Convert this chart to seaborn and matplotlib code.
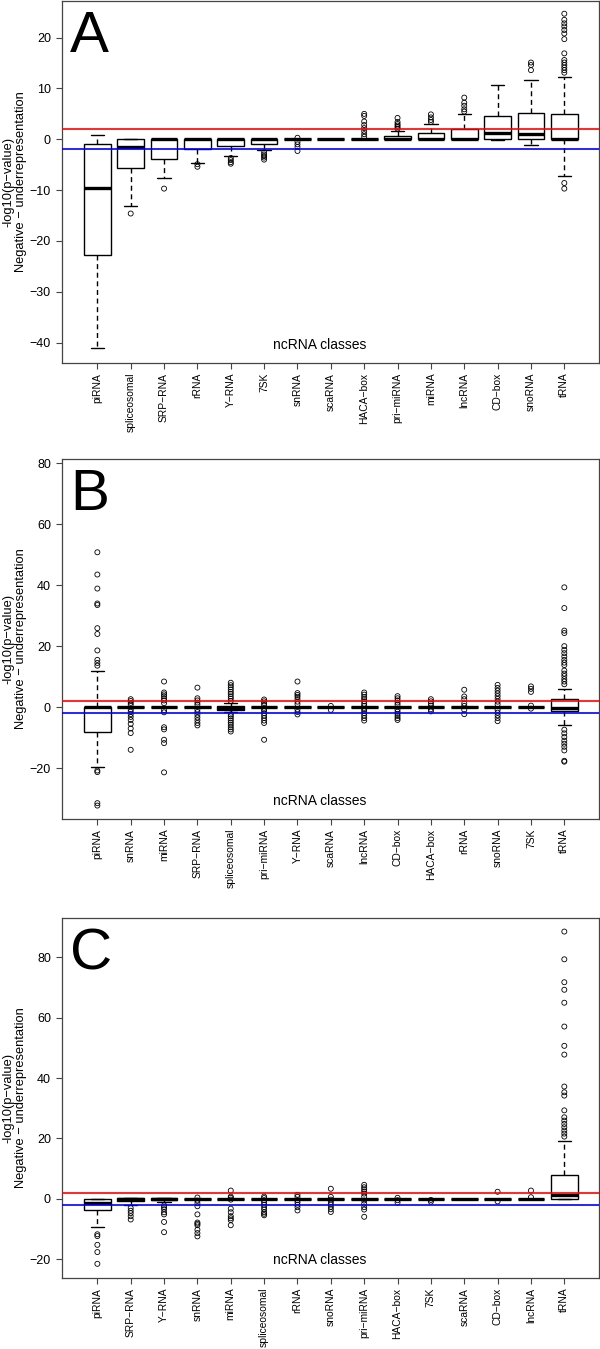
import numpy as np
import pandas as pd
import matplotlib
matplotlib.use("Agg")
import matplotlib.pyplot as plt
import seaborn as sns

M = "\u2212"

# ---- panel A ----
a_classes = ["piRNA", "spliceosomal", "SRP" + M + "RNA", "rRNA", "Y" + M + "RNA", "7SK", "snRNA",
             "scaRNA", "HACA" + M + "box", "pri" + M + "miRNA", "miRNA", "lncRNA", "CD" + M + "box",
             "snoRNA", "tRNA"]
a_lo = [-41.0, -13.2, -7.6, -4.6, -3.2, -2.2, 0, 0, 0, 0, 0, 0, -0.2, -1.2, -7.2]
a_q1 = [-22.7, -5.6, -3.8, -2.0, -1.3, -0.9, 0, 0, 0, 0, 0, 0, 0, 0, 0]
a_med = [-9.5, -1.5, 0, 0, 0, 0, 0, 0, 0, 0, 0, 0, 1.3, 1.1, 0]
a_q3 = [-0.9, 0, 0, 0, 0, 0, 0, 0, 0, 0.65, 1.2, 2.1, 4.5, 5.25, 4.9]
a_hi = [0.8, 0, 0, 0, 0, 0, 0, 0, 0, 1.6, 3.0, 5.05, 10.6, 11.7, 12.3]
a_out = [[], [-14.6], [-9.7], [-4.9, -5.4], [-3.7, -4.1, -4.5, -4.8],
         [-2.6, -3.0, -3.3, -3.6, -4.0], [0.3, -0.5, -1.0, -1.5, -2.3], [],
         [5.0, 4.6, 3.5, 2.8, 2.2, 1.6, 1.0, 0.5], [4.2, 3.4, 3.0, 2.7, 2.4, 2.1],
         [4.9, 4.3, 3.8, 3.4], [8.2, 7.2, 6.6, 5.9, 5.45], [], [15.1, 14.6, 13.6],
         [24.7, 23.5, 22.8, 22.2, 21.5, 20.8, 19.7, 16.9, 15.6, 15.1, 14.6, 14.1, 13.6, 13.1,
          -8.6, -9.7]]

# ---- panel B ----
b_classes = ["piRNA", "snRNA", "miRNA", "SRP" + M + "RNA", "spliceosomal", "pri" + M + "miRNA",
             "Y" + M + "RNA", "scaRNA", "lncRNA", "CD" + M + "box", "HACA" + M + "box", "rRNA",
             "snoRNA", "7SK", "tRNA"]
b_lo = [-19.7, 0, 0, 0, -1.6, 0, 0, 0, 0, 0, 0, 0, 0, 0, -5.8]
b_q1 = [-8.0, 0, 0, 0, -0.9, 0, 0, 0, 0, 0, 0, 0, 0, 0, -1.2]
b_med = [0, 0, 0, 0, -0.3, 0, 0, 0, 0, 0, 0, 0, 0, 0, -0.3]
b_q3 = [0, 0, 0, 0, 0.3, 0, 0, 0, 0, 0, 0, 0, 0, 0, 2.6]
b_hi = [11.9, 0, 0, 0, 1.2, 0, 0, 0, 0, 0, 0, 0, 0, 0, 6.0]
b_out = [[50.8, 43.5, 38.9, 34.0, 33.5, 25.9, 24.0, 18.6, 15.5, 14.5, 13.6, -20.8, -21.3, -31.5, -32.3],
         [2.6, 2.0, 1.4, 0.8, -0.8, -1.5, -2.3, -3.2, -4.2, -5.5, -7.0, -8.5, -14.0],
         [8.4, 4.8, 4.2, 3.6, 2.9, 2.2, 1.3, -1.0, -1.7, -6.6, -7.3, -10.7, -11.8, -21.4],
         [6.4, 2.9, 2.2, 1.5, 0.8, -0.8, -1.6, -2.5, -3.4, -4.3, -5.2, -6.0],
         [8.0, 7.2, 6.5, 5.8, 5.0, 4.3, 3.5, 2.8, 2.0, -2.4, -3.0, -3.7, -4.4, -5.1, -5.8, -6.6, -7.3, -8.0],
         [2.5, 1.9, 1.3, 0.7, -0.7, -1.3, -2.0, -2.8, -3.6, -4.4, -5.2, -10.7],
         [8.4, 4.6, 4.0, 3.4, 2.6, 1.8, 1.0, -0.8, -1.6, -2.4],
         [0.4, -0.9],
         [4.8, 4.1, 3.3, 2.6, 1.9, 1.1, 0.4, -0.6, -1.3, -2.0, -2.8, -3.6, -4.4],
         [3.6, 2.9, 2.2, 1.5, 0.8, -0.8, -1.5, -2.2, -2.9, -3.6, -4.2],
         [2.6, 1.9, 1.2, 0.5, -0.7, -1.4],
         [5.7, 3.5, 2.6, 1.2, 0.4, -0.9, -2.3],
         [7.3, 6.3, 5.4, 4.5, 3.6, 2.7, 1.8, 0.9, -0.9, -1.8, -2.7, -3.6, -4.6],
         [6.8, 6.0, 5.0, 0.5, -0.5],
         [39.3, 32.5, 25.1, 24.3, 20.0, 18.8, 17.7, 16.6, 15.5, 14.6, 13.8, 12.0, 11.0, 10.2, 9.2, 8.4, 7.5,
          -7.4, -8.6, -9.8, -11.0, -12.0, -13.0, -14.2, -17.6, -17.9]]

# ---- panel C ----
c_classes = ["piRNA", "SRP" + M + "RNA", "Y" + M + "RNA", "snRNA", "miRNA", "spliceosomal", "rRNA",
             "snoRNA", "pri" + M + "miRNA", "HACA" + M + "box", "7SK", "scaRNA", "CD" + M + "box",
             "lncRNA", "tRNA"]
c_lo = [-9.4, -2.0, -1.1, 0, 0, 0, 0, 0, 0, 0, 0, 0, 0, 0, 0]
c_q1 = [-3.9, -0.9, -0.4, 0, 0, 0, 0, 0, 0, 0, 0, 0, 0, 0, 0]
c_med = [-1.3, 0, 0, 0, 0, 0, 0, 0, 0, 0, 0, 0, 0, 0, 1.3]
c_q3 = [0, 0.3, 0.1, 0, 0, 0, 0, 0, 0, 0, 0, 0, 0, 0, 7.7]
c_hi = [0, 0.3, 0.1, 0, 0, 0, 0, 0, 0, 0, 0, 0, 0, 0, 19.0]
c_out = [[-11.8, -12.4, -15.3, -17.7, -21.6],
         [-3.1, -4.0, -4.8, -5.8, -6.9],
         [-2.2, -2.8, -3.5, -4.5, -5.2, -7.7, -11.1],
         [0.4, -0.6, -1.5, -2.5, -5.2, -7.9, -8.3, -8.8, -10.3, -11.4, -12.5],
         [2.7, 0.7, 0.3, -0.3, -3.3, -4.5, -5.8, -6.5, -7.1, -8.8],
         [0.7, 0.2, -0.5, -1.2, -2.0, -2.8, -3.6, -4.5, -5.0, -5.5],
         [1.3, 0.6, -0.5, -1.2, -2.0, -2.8, -3.9],
         [3.3, 0.6, -0.3, -1.1, -1.9, -2.7, -3.5, -4.4],
         [4.6, 3.8, 3.1, 2.4, 1.7, 0.7, -0.6, -1.7, -2.8, -3.6, -6.0],
         [0.3, -0.5, -1.3],
         [-0.4, -1.0],
         [],
         [2.3, -0.9],
         [2.7, 0.5],
         [88.6, 79.4, 71.8, 69.3, 65.0, 57.1, 50.7, 47.8, 37.2, 35.3, 34.2, 29.3, 27.0, 25.9, 24.8,
          23.7, 22.6, 21.6, 20.6]]

sns.set_style("ticks")
plt.rcParams["font.family"] = ["Liberation Sans", "DejaVu Sans"]
plt.rcParams["text.color"] = "black"
plt.rcParams["xtick.color"] = "#444444"
plt.rcParams["ytick.color"] = "#444444"
plt.rcParams["xtick.labelcolor"] = "black"
plt.rcParams["ytick.labelcolor"] = "black"


def box_frame(classes, lo, q1, med, q3, hi):
    rows = []
    for i, c in enumerate(classes):
        for v in (lo[i], q1[i], med[i], q3[i], hi[i]):
            rows.append((c, v))
    return pd.DataFrame(rows, columns=["cls", "val"])


def out_frame(classes, out):
    rows = [(c, v) for c, vals in zip(classes, out) for v in vals]
    return pd.DataFrame(rows, columns=["cls", "val"])


def panel(fig, rect, letter, classes, lo, q1, med, q3, hi, out, ylim, yticks):
    ax = fig.add_axes(rect)
    sns.boxplot(data=box_frame(classes, lo, q1, med, q3, hi), x="cls", y="val", order=classes,
                ax=ax, whis=(0, 100), width=0.8, color="white", linecolor="black",
                linewidth=1.0, showfliers=False,
                medianprops={"linewidth": 2.4},
                whiskerprops={"linestyle": (0, (3.6, 2.6))})
    sns.stripplot(data=out_frame(classes, out), x="cls", y="val", order=classes, ax=ax,
                  jitter=False, size=3.6, facecolor="none", edgecolor="black", linewidth=0.6)
    for coll in ax.collections:
        coll.set_facecolor("none")
    ax.axhline(2, color="#ff0000", lw=1.2, zorder=5)
    ax.axhline(-2, color="#0000ff", lw=1.2, zorder=5)
    ax.set_xlim(-1.06, len(classes) - 1 + 1.04)
    ax.set_ylim(*ylim)
    ax.set_yticks(yticks)
    ax.set_xticks(range(len(classes)))
    ax.set_xticklabels(classes, rotation=90, fontsize=7.4)
    ax.tick_params(axis="y", labelsize=9, length=4.5, width=0.8, pad=3.5)
    ax.tick_params(axis="x", length=4.5, width=0.8, pad=2.5)
    ax.set_xlabel("")
    ax.set_ylabel("")
    for s in ax.spines.values():
        s.set_visible(True)
        s.set_color("#444444")
        s.set_linewidth(0.9)
    ax.annotate(letter, xy=(0, 1), xycoords="axes fraction", xytext=(8, -51),
                textcoords="offset pixels", ha="left", va="baseline", fontsize=42)
    ax.annotate("ncRNA classes", xy=(0.48, 0), xycoords="axes fraction", xytext=(0, 18),
                textcoords="offset pixels", ha="center", va="center", fontsize=10)
    cy = rect[1] + rect[3] / 2
    fig.text(15 / 600, cy, "-log10(p" + M + "value)\nNegative " + M + " underrepresentation",
             rotation=90, ha="center", va="center", multialignment="center",
             fontsize=9.3, linespacing=1.05)
    return ax


H = 1349.0
fig = plt.figure(figsize=(6, 13.49), dpi=100)
left, width = 62 / 600, 537 / 600

panel(fig, [left, (H - 363) / H, width, 362 / H], "A", a_classes, a_lo, a_q1, a_med, a_q3, a_hi,
      a_out, (-44.0, 27.2), [-40, -30, -20, -10, 0, 10, 20])
panel(fig, [left, (H - 819) / H, width, 360 / H], "B", b_classes, b_lo, b_q1, b_med, b_q3, b_hi,
      b_out, (-36.7, 81.4), [-20, 0, 20, 40, 60, 80])
panel(fig, [left, (H - 1278) / H, width, 360 / H], "C", c_classes, c_lo, c_q1, c_med, c_q3, c_hi,
      c_out, (-26.3, 93.1), [-20, 0, 20, 40, 60, 80])

fig.savefig("out.png", dpi=100)
